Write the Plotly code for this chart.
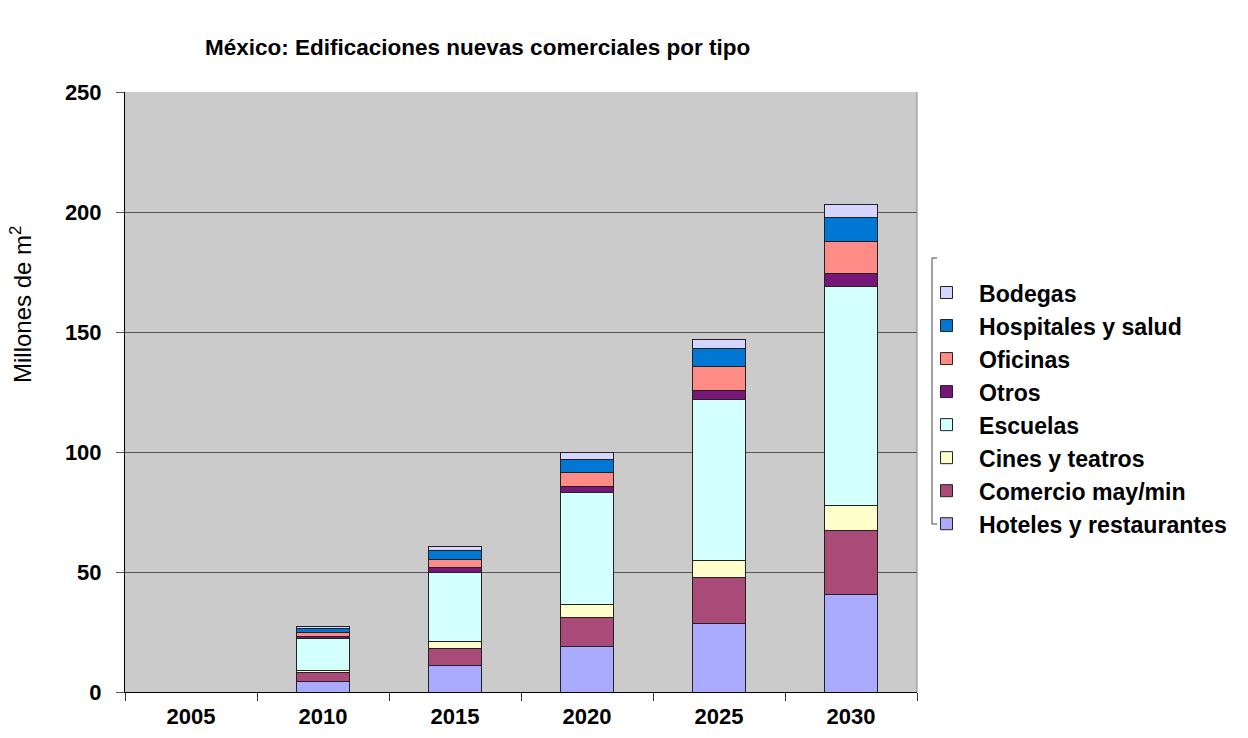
import plotly.graph_objects as go

# New commercial floor area in Mexico, by building type (millions of m²)
years = ["2005", "2010", "2015", "2020", "2025", "2030"]

hoteles = [0, 4.3, 11.1, 18.8, 28.6, 40.7]
comercio = [0, 4.0, 7.1, 12.1, 19.2, 26.7]
cines = [0, 0.7, 2.9, 5.4, 6.8, 10.5]
escuelas = [0, 13.5, 28.8, 47.0, 67.4, 91.0]
otros = [0, 0.7, 2.1, 2.2, 3.7, 5.3]
oficinas = [0, 1.5, 3.1, 6.1, 9.9, 13.6]
hospitales = [0, 1.7, 3.9, 5.3, 7.4, 10.0]
bodegas = [0, 1.0, 1.7, 3.1, 4.0, 5.2]

series = [
    ("Hoteles y restaurantes", hoteles, "#AAAAFF"),
    ("Comercio may/min", comercio, "#A94A78"),
    ("Cines y teatros", cines, "#FFFFCC"),
    ("Escuelas", escuelas, "#D4FFFF"),
    ("Otros", otros, "#761676"),
    ("Oficinas", oficinas, "#FF8B87"),
    ("Hospitales y salud", hospitales, "#0077D5"),
    ("Bodegas", bodegas, "#D5D5FF"),
]

FONT = "Arial, Liberation Sans, sans-serif"
W, H = 1248, 738
L, R, T, B = 125, 917, 92, 692  # plot area in pixels


def px_x(x):
    return (x - L) / (R - L)


def px_y(y):
    return (B - y) / (B - T)


fig = go.Figure()
n = len(series)
for i, (name, vals, color) in enumerate(series):
    fig.add_trace(go.Bar(
        x=years, y=vals, name=name, legendgroup=name,
        legendrank=n - i,  # top of the stack first in the legend
        width=0.4,
        marker=dict(color=color, line=dict(color="#222222", width=1)),
    ))

fig.update_layout(
    width=W, height=H,
    margin=dict(l=L, r=W - R, t=T, b=H - B, autoexpand=False),
    barmode="stack",
    paper_bgcolor="white",
    plot_bgcolor="#CBCBCB",
    font=dict(family=FONT, size=22, color="black"),
    showlegend=True,
    legend=dict(
        x=px_x(914), y=px_y(271), xanchor="left", yanchor="top",
        traceorder="grouped", tracegroupgap=0,
        font=dict(family=FONT, size=23.1, color="black", weight="bold"),
        bgcolor="rgba(0,0,0,0)", itemwidth=55,
    ),
    xaxis=dict(
        type="category", automargin=False,
        showline=True, linecolor="black", linewidth=1,
        ticks="outside", tickson="boundaries", ticklen=8, tickcolor="#333333",
        tickfont=dict(family=FONT, size=22, color="black", weight="bold"),
        ticklabelstandoff=5,
        showgrid=False,
    ),
    yaxis=dict(
        range=[0, 250], tickvals=[0, 50, 100, 150, 200, 250], automargin=False,
        showline=True, linecolor="black", linewidth=1,
        ticks="outside", ticklen=8, tickcolor="#555555",
        tickfont=dict(family=FONT, size=22, color="black", weight="bold"),
        ticklabelstandoff=10,
        showgrid=True, gridcolor="#555555", gridwidth=1,
        zeroline=False,
    ),
)

# right border of the plot area
fig.add_shape(type="line", xref="paper", yref="paper",
              x0=1, x1=1, y0=0, y1=1, line=dict(color="#888888", width=1))

# bracket on the left of the legend
fig.add_shape(type="path", xref="paper", yref="paper",
              path=(f"M {px_x(937)},{px_y(258)} L {px_x(932)},{px_y(258)} "
                    f"L {px_x(932)},{px_y(524)} L {px_x(937)},{px_y(524)}"),
              line=dict(color="#444444", width=1))

fig.add_annotation(
    text="México: Edificaciones nuevas comerciales por tipo",
    xref="paper", yref="paper", x=px_x(477), y=px_y(47),
    showarrow=False, xanchor="center", yanchor="middle",
    font=dict(family=FONT, size=22.5, color="black", weight="bold"),
)

fig.add_annotation(
    text="Millones de m<sup>2</sup>",
    xref="paper", yref="paper", x=px_x(21), y=px_y(304),
    showarrow=False, xanchor="center", yanchor="middle", textangle=-90,
    font=dict(family=FONT, size=24, color="black"),
)

fig.write_html("out.html")
